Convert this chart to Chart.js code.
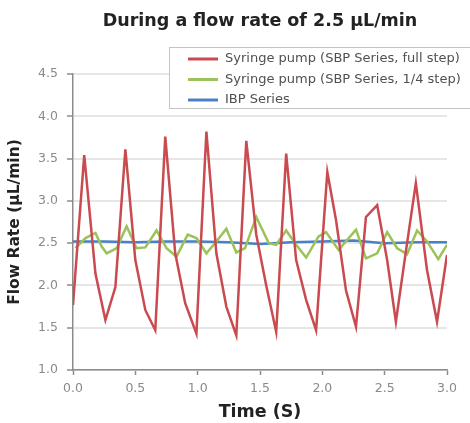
<!DOCTYPE html>
<html lang="en">
<head>
  <meta charset="UTF-8">
  <title>Flow rate at 2.5 µL/min</title>
  <script src="https://cdn.jsdelivr.net/npm/chart.js"></script>
  <style>
    body {
      margin: 0;
      padding: 0;
      background: #fff;
    }
    .chart-box {
      width: 470px;
      height: 423px;
      position: relative;
    }
  </style>
</head>
<body>
  <div class="chart-box"><canvas id="flowChart"></canvas></div>

  <script>
    const chartTitle = 'During a flow rate of 2.5 μL/min';
    const yTitle = 'Flow Rate (μL/min)';
    const xTitle = 'Time (S)';
    const seriesNames = [
      'Syringe pump (SBP Series, full step)',
      'Syringe pump (SBP Series, 1/4 step)',
      'IBP Series'
    ];

    // full step syringe pump (time in s, flow in uL/min)
    const fullStepTimes = [0.00, 0.09, 0.18, 0.26, 0.34, 0.42, 0.50, 0.58, 0.66, 0.74,
      0.82, 0.90, 0.99, 1.07, 1.15, 1.23, 1.31, 1.39, 1.47, 1.55,
      1.63, 1.71, 1.79, 1.87, 1.95, 2.04, 2.11, 2.19, 2.27, 2.35,
      2.44, 2.52, 2.59, 2.67, 2.75, 2.84, 2.92, 3.00];
    const fullStepValues = [1.77, 3.54, 2.14, 1.59, 1.98, 3.61, 2.30, 1.71, 1.47, 3.76,
      2.38, 1.79, 1.43, 3.82, 2.38, 1.75, 1.41, 3.71, 2.60, 2.00,
      1.45, 3.56, 2.30, 1.83, 1.47, 3.34, 2.77, 1.94, 1.51, 2.81,
      2.95, 2.30, 1.57, 2.40, 3.21, 2.18, 1.57, 2.36];

    // 1/4 step syringe pump
    const quarterStepTimes = [0.02, 0.10, 0.18, 0.23, 0.27, 0.35, 0.43, 0.51, 0.58, 0.67,
      0.75, 0.83, 0.92, 0.99, 1.07, 1.15, 1.23, 1.31, 1.38, 1.47,
      1.57, 1.63, 1.71, 1.79, 1.87, 1.97, 2.03, 2.13, 2.27, 2.35,
      2.44, 2.52, 2.60, 2.68, 2.76, 2.84, 2.93, 3.00];
    const quarterStepValues = [2.44, 2.56, 2.62, 2.46, 2.38, 2.44, 2.70, 2.44, 2.45, 2.65,
      2.44, 2.34, 2.60, 2.56, 2.38, 2.52, 2.67, 2.39, 2.44, 2.81,
      2.50, 2.48, 2.65, 2.48, 2.33, 2.58, 2.63, 2.42, 2.66, 2.32,
      2.38, 2.63, 2.44, 2.37, 2.65, 2.52, 2.31, 2.48];

    // IBP series
    const ibpTimes = [0.00, 0.25, 0.50, 0.75, 1.00, 1.25, 1.50, 1.75, 2.00, 2.25,
      2.50, 2.75, 3.00];
    const ibpValues = [2.52, 2.52, 2.51, 2.52, 2.52, 2.51, 2.49, 2.51, 2.52, 2.53,
      2.50, 2.51, 2.51];

    const xTicks = [0, 0.5, 1, 1.5, 2, 2.5, 3];
    const yMin = 1.0, yMax = 4.5, yStep = 0.5;

    const colors = ['#c94a4f', '#9cc25a', '#4a80c6'];
    const fontFamily = '"DejaVu Sans", sans-serif';

    function toPoints(times, values) {
      return times.map((t, i) => ({ x: t, y: values[i] }));
    }

    // title drawn centred over the plot area
    const titlePlugin = {
      id: 'plotTitle',
      afterDraw(chart) {
        const { ctx, chartArea } = chart;
        ctx.save();
        ctx.font = 'bold 17.5px ' + fontFamily;
        ctx.fillStyle = '#222';
        ctx.textAlign = 'center';
        ctx.textBaseline = 'middle';
        ctx.fillText(chartTitle, (chartArea.left + chartArea.right) / 2, 21);
        ctx.restore();
      }
    };

    // boxed legend sitting over the top of the plot
    const boxLegend = {
      id: 'boxLegend',
      afterDraw(chart) {
        const ctx = chart.ctx;
        ctx.save();
        ctx.fillStyle = '#fff';
        ctx.fillRect(169.5, 47.5, 320, 61);
        ctx.strokeStyle = '#c4c4c4';
        ctx.lineWidth = 1;
        ctx.strokeRect(169.5, 47.5, 320, 61);
        ctx.font = '13px ' + fontFamily;
        ctx.textBaseline = 'middle';
        chart.data.datasets.forEach((ds, i) => {
          const y = 59 + i * 20.5;
          ctx.strokeStyle = ds.borderColor;
          ctx.lineWidth = 3;
          ctx.beginPath();
          ctx.moveTo(188, y);
          ctx.lineTo(218, y);
          ctx.stroke();
          ctx.fillStyle = '#505050';
          ctx.fillText(ds.label, 225, y);
        });
        ctx.restore();
      }
    };

    new Chart(document.getElementById('flowChart'), {
      type: 'line',
      data: {
        datasets: [
          { label: seriesNames[0], data: toPoints(fullStepTimes, fullStepValues), borderColor: colors[0] },
          { label: seriesNames[1], data: toPoints(quarterStepTimes, quarterStepValues), borderColor: colors[1] },
          { label: seriesNames[2], data: toPoints(ibpTimes, ibpValues), borderColor: colors[2] }
        ].map(ds => Object.assign(ds, { borderWidth: 2.5, pointRadius: 0, tension: 0, fill: false }))
      },
      options: {
        responsive: true,
        maintainAspectRatio: false,
        animation: false,
        layout: { padding: { top: 74, right: 23, bottom: 0, left: 0 } },
        plugins: {
          legend: { display: false },
          title: { display: false },
          tooltip: { enabled: false }
        },
        scales: {
          x: {
            type: 'linear',
            min: 0,
            max: 3,
            afterBuildTicks(scale) {
              scale.ticks = xTicks.map(v => ({ value: v }));
            },
            afterFit(scale) { scale.height = 53; },
            ticks: {
              callback: v => v.toFixed(1),
              color: '#8a8a8a',
              font: { family: fontFamily, size: 12.5 },
              padding: 6,
              maxRotation: 0
            },
            grid: { drawOnChartArea: false, tickLength: 5, tickColor: '#8c8c8c', tickWidth: 1.5 },
            border: { color: '#8c8c8c', width: 1.5 },
            title: {
              display: true,
              text: xTitle,
              color: '#222',
              font: { family: fontFamily, size: 17.5, weight: 'bold' },
              padding: { top: 0, bottom: 0 }
            }
          },
          y: {
            min: yMin,
            max: yMax,
            afterFit(scale) { scale.width = 73; },
            ticks: {
              stepSize: yStep,
              callback: v => v.toFixed(1),
              color: '#8a8a8a',
              font: { family: fontFamily, size: 12.5 },
              padding: 9
            },
            grid: { color: '#e6e6e6', lineWidth: 2, tickLength: 6, tickColor: '#8c8c8c', tickWidth: 1.5 },
            border: { color: '#8c8c8c', width: 1.5 },
            title: {
              display: true,
              text: yTitle,
              color: '#222',
              font: { family: fontFamily, size: 15.5, weight: 'bold' },
              padding: { top: 6, bottom: 0 }
            }
          }
        }
      },
      plugins: [titlePlugin, boxLegend]
    });
  </script>
</body>
</html>
